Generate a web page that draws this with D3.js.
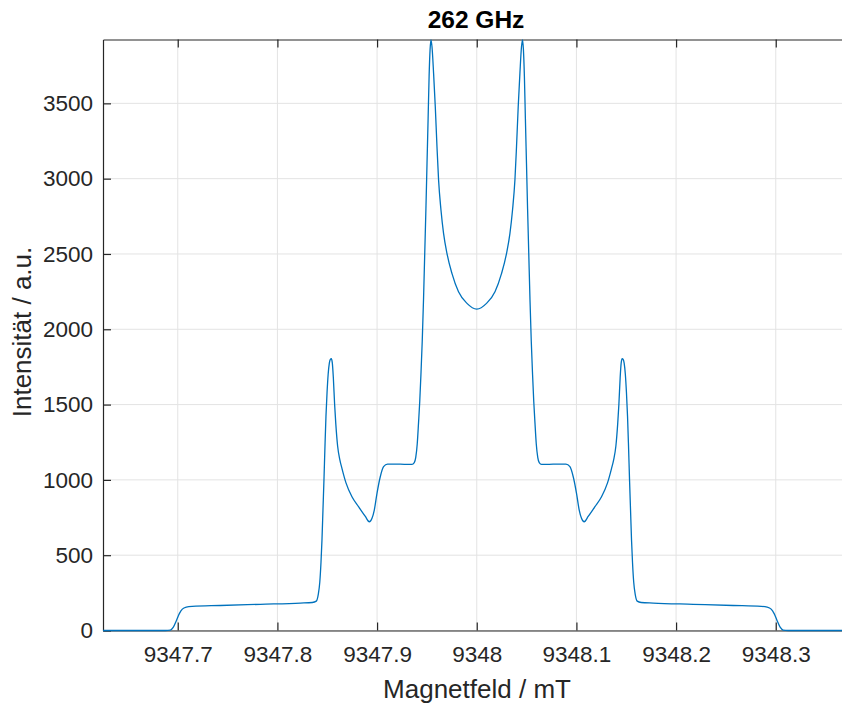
<!DOCTYPE html>
<html>
<head>
<meta charset="utf-8">
<script src="https://cdn.jsdelivr.net/npm/d3@7"></script>
<style>
  body { margin: 0; background: #fff; }
  text { font-family: "Liberation Sans", Arial, sans-serif; }
</style>
</head>
<body>
<svg id="chart" width="842" height="706"></svg>
<script>
// spectrum (field in mT, intensity in a.u.)
var field = [
  9347.625, 9347.6876, 9347.6926, 9347.6956, 9347.6986, 9347.7016, 9347.7046, 9347.7086,
  9347.7146, 9347.7427, 9347.7828, 9347.8230, 9347.8350, 9347.8390, 9347.8410, 9347.8425,
  9347.8437, 9347.8447, 9347.8457, 9347.8467, 9347.8477, 9347.8487, 9347.8498, 9347.8509,
  9347.8521, 9347.8531, 9347.8541, 9347.8551, 9347.8561, 9347.8574, 9347.8586, 9347.8604,
  9347.8626, 9347.8648, 9347.8688, 9347.8748, 9347.8814, 9347.8882, 9347.8922, 9347.8949,
  9347.8972, 9347.8999, 9347.9032, 9347.9065, 9347.9105, 9347.9233, 9347.9350, 9347.9373,
  9347.9388, 9347.9403, 9347.9416, 9347.9428, 9347.9440, 9347.9453, 9347.9466, 9347.9478,
  9347.9490, 9347.9501, 9347.9512, 9347.9522, 9347.9532, 9347.9541, 9347.9551, 9347.9567,
  9347.9584, 9347.9601, 9347.9617, 9347.9641, 9347.9667, 9347.9701, 9347.9751, 9347.9817,
  9347.9902, 9348.0000,
  9348.0098, 9348.0183, 9348.0249, 9348.0299, 9348.0333, 9348.0359, 9348.0383, 9348.0399,
  9348.0416, 9348.0433, 9348.0449, 9348.0459, 9348.0468, 9348.0478, 9348.0488, 9348.0499,
  9348.0510, 9348.0522, 9348.0534, 9348.0547, 9348.0560, 9348.0572, 9348.0584, 9348.0597,
  9348.0612, 9348.0627, 9348.0650, 9348.0767, 9348.0895, 9348.0935, 9348.0968, 9348.1001,
  9348.1028, 9348.1051, 9348.1078, 9348.1118, 9348.1186, 9348.1252, 9348.1312, 9348.1352,
  9348.1374, 9348.1396, 9348.1414, 9348.1426, 9348.1439, 9348.1449, 9348.1459, 9348.1469,
  9348.1479, 9348.1491, 9348.1502, 9348.1513, 9348.1523, 9348.1533, 9348.1543, 9348.1553,
  9348.1563, 9348.1575, 9348.1590, 9348.1610, 9348.1650, 9348.1770, 9348.2172, 9348.2573,
  9348.2854, 9348.2914, 9348.2954, 9348.2984, 9348.3014, 9348.3044, 9348.3074, 9348.3124,
  9348.375
];
var intensity = [
  0, 0, 3, 22, 65, 112, 142, 155,
  160, 166, 174, 182, 186, 195, 240, 320,
  450, 600, 800, 1000, 1220, 1420, 1580, 1700,
  1775, 1800, 1805, 1775, 1680, 1500, 1370, 1225,
  1135, 1075, 980, 888, 822, 757, 722, 745,
  800, 911, 1021, 1088, 1105, 1104, 1103, 1115,
  1150, 1240, 1380, 1520, 1700, 1920, 2200, 2500,
  2800, 3100, 3400, 3680, 3860, 3922, 3876, 3699,
  3477, 3212, 2991, 2792, 2637, 2504, 2371, 2249,
  2172, 2134,
  2172, 2249, 2371, 2504, 2637, 2792, 2991, 3212,
  3477, 3699, 3876, 3922, 3860, 3680, 3400, 3100,
  2800, 2500, 2200, 1920, 1700, 1520, 1380, 1240,
  1150, 1115, 1103, 1104, 1105, 1088, 1021, 911,
  800, 745, 722, 757, 822, 888, 980, 1075,
  1135, 1225, 1370, 1500, 1680, 1775, 1805, 1800,
  1775, 1700, 1580, 1420, 1220, 1000, 800, 600,
  450, 320, 240, 195, 186, 182, 174, 166,
  160, 155, 142, 112, 65, 22, 3, 0,
  0
];

var xTicks = [9347.7, 9347.8, 9347.9, 9348, 9348.1, 9348.2, 9348.3];
var xTickLabels = ["9347.7", "9347.8", "9347.9", "9348", "9348.1", "9348.2", "9348.3"];
var yTicks = [0, 500, 1000, 1500, 2000, 2500, 3000, 3500];

var title = "262 GHz";
var xTitle = "Magnetfeld / mT";
var yTitle = "Intensität / a.u.";

plot_spectrum();

function plot_spectrum() {
  var svg = d3.select('#chart');

  var left = 103, top = 39.5, right = 850.5, bottom = 630.5;
  var axColor = "#262626";

  var x = d3.scaleLinear().domain([9347.625, 9348.375]).range([left, right]);
  var y = d3.scaleLinear().domain([0, 3924]).range([bottom, top]);

  // grid
  svg.append("g").selectAll("line").data(xTicks).enter().append("line")
    .attr("x1", d => x(d)).attr("x2", d => x(d))
    .attr("y1", top).attr("y2", bottom)
    .attr("stroke", "#e3e3e3").attr("stroke-width", 1);
  svg.append("g").selectAll("line").data(yTicks).enter().append("line")
    .attr("x1", left).attr("x2", right)
    .attr("y1", d => y(d)).attr("y2", d => y(d))
    .attr("stroke", "#e3e3e3").attr("stroke-width", 1);

  // axes, MATLAB style with inward ticks
  var ax = d3.axisBottom(x).tickValues(xTicks)
    .tickFormat((d, i) => xTickLabels[i]).tickSizeInner(-8).tickSizeOuter(0).tickPadding(16);
  var axTop = d3.axisTop(x).tickValues(xTicks).tickFormat("").tickSizeInner(-8).tickSizeOuter(0);
  var ay = d3.axisLeft(y).tickValues(yTicks).tickFormat(d3.format("d"))
    .tickSizeInner(-8).tickSizeOuter(0).tickPadding(10);

  var gx = svg.append("g").attr("transform", `translate(0, ${bottom})`).call(ax);
  var gt = svg.append("g").attr("transform", `translate(0, ${top})`).call(axTop);
  var gy = svg.append("g").attr("transform", `translate(${left}, 0)`).call(ay);

  [gx, gt, gy].forEach(function(g) {
    g.select(".domain").attr("stroke", axColor).attr("stroke-width", 1.2);
    g.selectAll(".tick line").attr("stroke", axColor).attr("stroke-width", 1.2);
    g.selectAll(".tick text").attr("fill", axColor).style("font-size", "22.5px");
  });

  // spectrum
  var line = d3.line()
    .x((d, i) => x(field[i]))
    .y((d, i) => y(intensity[i]))
    .curve(d3.curveMonotoneX);

  svg.append("path")
    .attr("d", line(field))
    .attr("fill", "none")
    .attr("stroke", "#0072BD")
    .attr("stroke-width", 1.3);

  svg.append("text")
    .attr("x", 476).attr("y", 28)
    .attr("text-anchor", "middle")
    .attr("fill", "#000")
    .style("font-size", "24.5px").style("font-weight", "bold")
    .text(title);

  svg.append("text")
    .attr("x", 477).attr("y", 698)
    .attr("text-anchor", "middle")
    .attr("fill", axColor)
    .style("font-size", "26px")
    .text(xTitle);

  svg.append("text")
    .attr("transform", "translate(31, 332) rotate(-90)")
    .attr("text-anchor", "middle")
    .attr("fill", axColor)
    .style("font-size", "26px")
    .text(yTitle);
}
</script>
</body>
</html>
